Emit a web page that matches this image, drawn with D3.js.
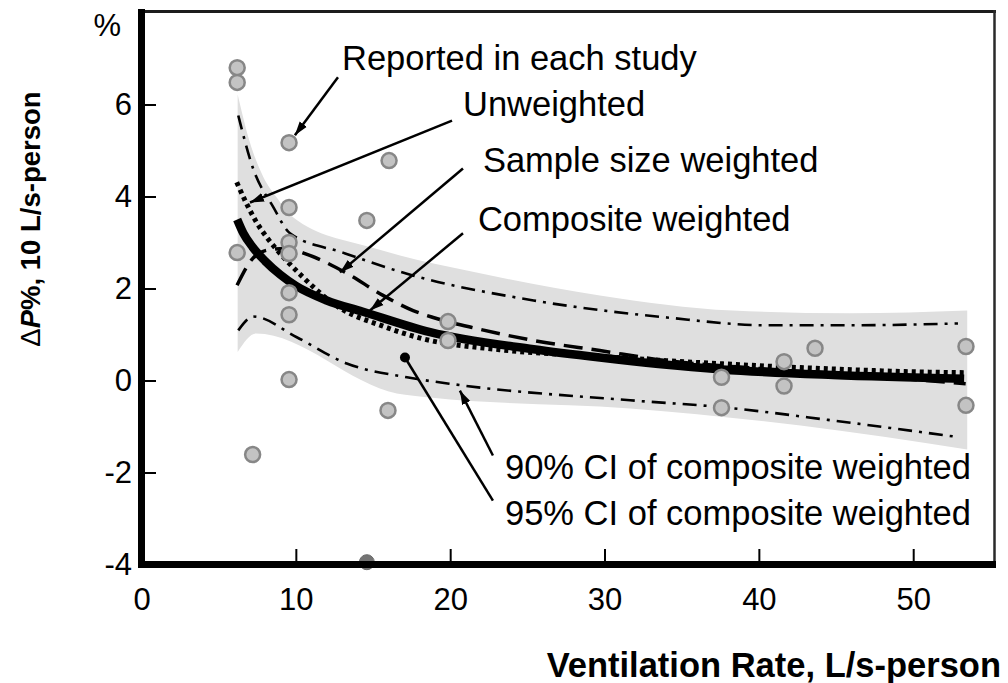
<!DOCTYPE html>
<html>
<head>
<meta charset="utf-8">
<script src="https://cdn.jsdelivr.net/npm/d3@7"></script>
<style>
  body { margin: 0; background: #fff; }
  svg { font-family: "Liberation Sans", Arial, sans-serif; }
</style>
</head>
<body>
<svg id="chart" width="1008" height="683"></svg>
<script>
// values (ventilation rate L/s-person vs dP%)
const studyVR = [6.2, 6.2, 6.2, 7.2, 9.56, 9.56, 9.56, 9.56, 9.56, 9.56, 9.56, 14.6, 16.04, 15.97, 19.86, 19.86, 37.58, 37.58, 41.63, 41.63, 43.64, 53.42, 53.42]
const studyDP = [6.8, 6.48, 2.78, -1.61, 5.17, 3.76, 3.0, 2.76, 1.91, 1.43, 0.02, 3.48, 4.78, -0.65, 1.28, 0.87, 0.07, -0.59, 0.41, -0.12, 0.70, 0.74, -0.54]
const offScaleVR = [14.6]
const offScaleDP = [-3.95]

const compX = [6.2, 6.6, 7.2, 8.0, 9.0, 10.0, 12.0, 14.3, 18.7, 25.4, 29.7, 33.5, 37.6, 44.8, 53.3]
const compY = [3.5, 3.2, 2.9, 2.6, 2.3, 2.06, 1.74, 1.5, 1.05, 0.68, 0.50, 0.36, 0.24, 0.12, 0.04]

const unwX = [6.17, 6.8, 7.45, 8.1, 8.75, 10.45, 12.65, 15.65, 18.2, 23.2, 29.7, 34.05, 42.7, 51.3, 53.4]
const unwY = [4.31, 3.85, 3.44, 3.12, 2.85, 2.25, 1.62, 1.18, 0.91, 0.67, 0.52, 0.43, 0.28, 0.18, 0.17]

const sampX = [6.19, 7.2, 8.1, 9.3, 10.9, 13.2, 15.65, 17.6, 18.9, 21.7, 25.4, 29.7, 34.05, 40.1, 46.6, 53.4]
const sampY = [2.07, 2.65, 2.83, 2.87, 2.72, 2.35, 1.85, 1.52, 1.37, 1.13, 0.87, 0.65, 0.43, 0.26, 0.11, -0.07]

const ci90upX = [6.27, 7.24, 8.54, 9.62, 13.05, 17.2, 25.4, 34.05, 40.5, 45.9, 52.9]
const ci90upY = [5.76, 4.6, 3.77, 3.2, 2.78, 2.32, 1.74, 1.37, 1.2, 1.2, 1.24]
const ci90loX = [6.27, 7.25, 10.06, 13.3, 17.2, 20.4, 31.66, 37.6, 44.8, 52.7]
const ci90loY = [1.09, 1.39, 0.94, 0.37, 0.07, -0.09, -0.43, -0.58, -0.87, -1.22]

const ci95upX = [6.23, 7.0, 7.9, 8.76, 9.82, 14.8, 16.75, 21.08, 29.7, 38.3, 45.9, 53.5]
const ci95upY = [6.22, 5.2, 4.42, 3.98, 3.55, 2.9, 2.72, 2.39, 1.85, 1.52, 1.46, 1.52]
const ci95loX = [6.23, 7.42, 16.54, 18.7, 31.66, 42.7, 53.5]
const ci95loY = [0.62, 1.02, -0.28, -0.37, -0.61, -0.98, -1.5]

const xTicks = [0, 10, 20, 30, 40, 50]
const yTicks = [-4, -2, 0, 2, 4, 6]

// annotation labels: text anchor, arrow start, arrow end (data units)
const noteText = ["Reported in each study", "Unweighted", "Sample size weighted", "Composite weighted",
  "90% CI of composite weighted", "95% CI of composite weighted"]
const noteTx = [12.99, 20.83, 22.12, 21.8, 23.55, 23.55]
const noteTy = [6.76, 5.76, 4.54, 3.24, -2.15, -3.15]
const noteFromX = [12.73, 20.12, 20.83, 20.83, 22.77, 22.77]
const noteFromY = [6.59, 5.65, 4.61, 3.2, -1.63, -2.61]
const noteToX = [9.94, 7.03, 12.86, 14.8, 20.63, 17.07]
const noteToY = [5.33, 3.87, 2.35, 1.52, -0.22, 0.5]
const noteEnd = ["arrow", "arrow", "arrow", "arrow", "arrow", "dot"]

const svg = d3.select("#chart")
const x = d3.scaleLinear().domain([0, 55.3]).range([141.5, 995])
const y = d3.scaleLinear().domain([-4, 8]).range([564.5, 12.5])

const zip = (xs, ys) => xs.map((v, i) => [v, ys[i]])
const line = d3.line().x(d => x(d[0])).y(d => y(d[1])).curve(d3.curveMonotoneX)

svg.append("defs").append("marker")
  .attr("id", "head").attr("viewBox", "0 0 14 10")
  .attr("refX", 14).attr("refY", 5)
  .attr("markerWidth", 14).attr("markerHeight", 10)
  .attr("markerUnits", "userSpaceOnUse").attr("orient", "auto")
  .append("path").attr("d", "M0,0.5 L14,5 L0,9.5 Z").attr("fill", "#000")

// 95% CI band
const upPath = line(zip(ci95upX, ci95upY))
const loPath = line(zip(ci95loX, ci95loY).reverse())
svg.append("path")
  .attr("d", upPath + "L" + loPath.slice(1) + "Z")
  .attr("fill", "#dfdfdf")

// 90% CI lines
;[[ci90upX, ci90upY], [ci90loX, ci90loY]].forEach(c => {
  svg.append("path").attr("d", line(zip(c[0], c[1])))
    .attr("fill", "none").attr("stroke", "#000").attr("stroke-width", 2.6)
    .attr("stroke-dasharray", "14 7 3 7")
})

// sample size weighted
svg.append("path").attr("d", line(zip(sampX, sampY)))
  .attr("fill", "none").attr("stroke", "#000").attr("stroke-width", 3.5)
  .attr("stroke-dasharray", "19 9")

// composite weighted
svg.append("path").attr("d", line(zip(compX, compY)))
  .attr("fill", "none").attr("stroke", "#000").attr("stroke-width", 8.5)

// unweighted
svg.append("path").attr("d", line(zip(unwX, unwY)))
  .attr("fill", "none").attr("stroke", "#000").attr("stroke-width", 5)
  .attr("stroke-dasharray", "4 4")

// study points
svg.append("g").selectAll("circle").data(zip(studyVR, studyDP)).enter()
  .append("circle")
  .attr("cx", d => x(d[0])).attr("cy", d => y(d[1])).attr("r", 7.5)
  .attr("fill", "#c3c3c3").attr("stroke", "#878787").attr("stroke-width", 2.5)
svg.append("g").selectAll("circle").data(zip(offScaleVR, offScaleDP)).enter()
  .append("circle")
  .attr("cx", d => x(d[0])).attr("cy", d => y(d[1])).attr("r", 7.5)
  .attr("fill", "#747474").attr("stroke", "#6a6a6a").attr("stroke-width", 1)

// annotations
noteText.forEach((t, i) => {
  svg.append("line")
    .attr("x1", x(noteFromX[i])).attr("y1", y(noteFromY[i]))
    .attr("x2", x(noteToX[i])).attr("y2", y(noteToY[i]))
    .attr("stroke", "#000").attr("stroke-width", 2.5)
    .attr("marker-end", noteEnd[i] == "arrow" ? "url(#head)" : null)
  if (noteEnd[i] == "dot")
    svg.append("circle").attr("cx", x(noteToX[i])).attr("cy", y(noteToY[i])).attr("r", 5).attr("fill", "#000")
  svg.append("text").attr("x", x(noteTx[i])).attr("y", y(noteTy[i]))
    .attr("font-size", 34.5).attr("fill", "#000").text(t)
})

// frame
svg.append("line").attr("x1", 141).attr("x2", 996).attr("y1", 11.5).attr("y2", 11.5)
  .attr("stroke", "#1c1c1c").attr("stroke-width", 3)
svg.append("line").attr("x1", 994.5).attr("x2", 994.5).attr("y1", 10).attr("y2", 566)
  .attr("stroke", "#2a2a2a").attr("stroke-width", 2.5)

// axes
const yAxis = svg.append("g").attr("transform", `translate(${x(0)},0)`)
  .call(d3.axisLeft(y).tickValues(yTicks).tickFormat(d => String(d))
    .tickSizeInner(-14.5).tickSizeOuter(0).tickPadding(9.5))
yAxis.select(".domain").remove()
yAxis.selectAll(".tick line").attr("stroke-width", 2)
yAxis.selectAll("text").attr("font-size", 31).attr("font-family", "Liberation Sans, Arial, sans-serif")

const xAxis = svg.append("g").attr("transform", `translate(0,${y(-4)})`)
  .call(d3.axisBottom(x).tickValues(xTicks).tickFormat(d => String(d))
    .tickSizeInner(-15.5).tickSizeOuter(0).tickPadding(23))
xAxis.select(".domain").remove()
xAxis.selectAll(".tick line").attr("stroke-width", 2)
xAxis.selectAll("text").attr("font-size", 31).attr("font-family", "Liberation Sans, Arial, sans-serif")

svg.append("line").attr("x1", x(0)).attr("x2", x(0)).attr("y1", 9).attr("y2", 568)
  .attr("stroke", "#000").attr("stroke-width", 7)
svg.append("line").attr("x1", x(0) - 3.5).attr("x2", 996).attr("y1", y(-4)).attr("y2", y(-4))
  .attr("stroke", "#000").attr("stroke-width", 7)

// unit mark and axis titles
svg.append("text").attr("x", 121).attr("y", 36).attr("text-anchor", "end")
  .attr("font-size", 31).text("%")

svg.append("text").attr("x", 1001).attr("y", 677).attr("text-anchor", "end")
  .attr("font-size", 34.5).attr("font-weight", "bold").text("Ventilation Rate, L/s-person")

const yt = svg.append("text").attr("transform", "translate(40,219) rotate(-90)")
  .attr("text-anchor", "middle").attr("font-size", 27.5).attr("font-weight", "bold")
yt.append("tspan").attr("font-weight", "normal").text("Δ")
yt.append("tspan").attr("font-style", "italic").text("P")
yt.append("tspan").text("%, 10 L/s-person")
</script>
</body>
</html>
